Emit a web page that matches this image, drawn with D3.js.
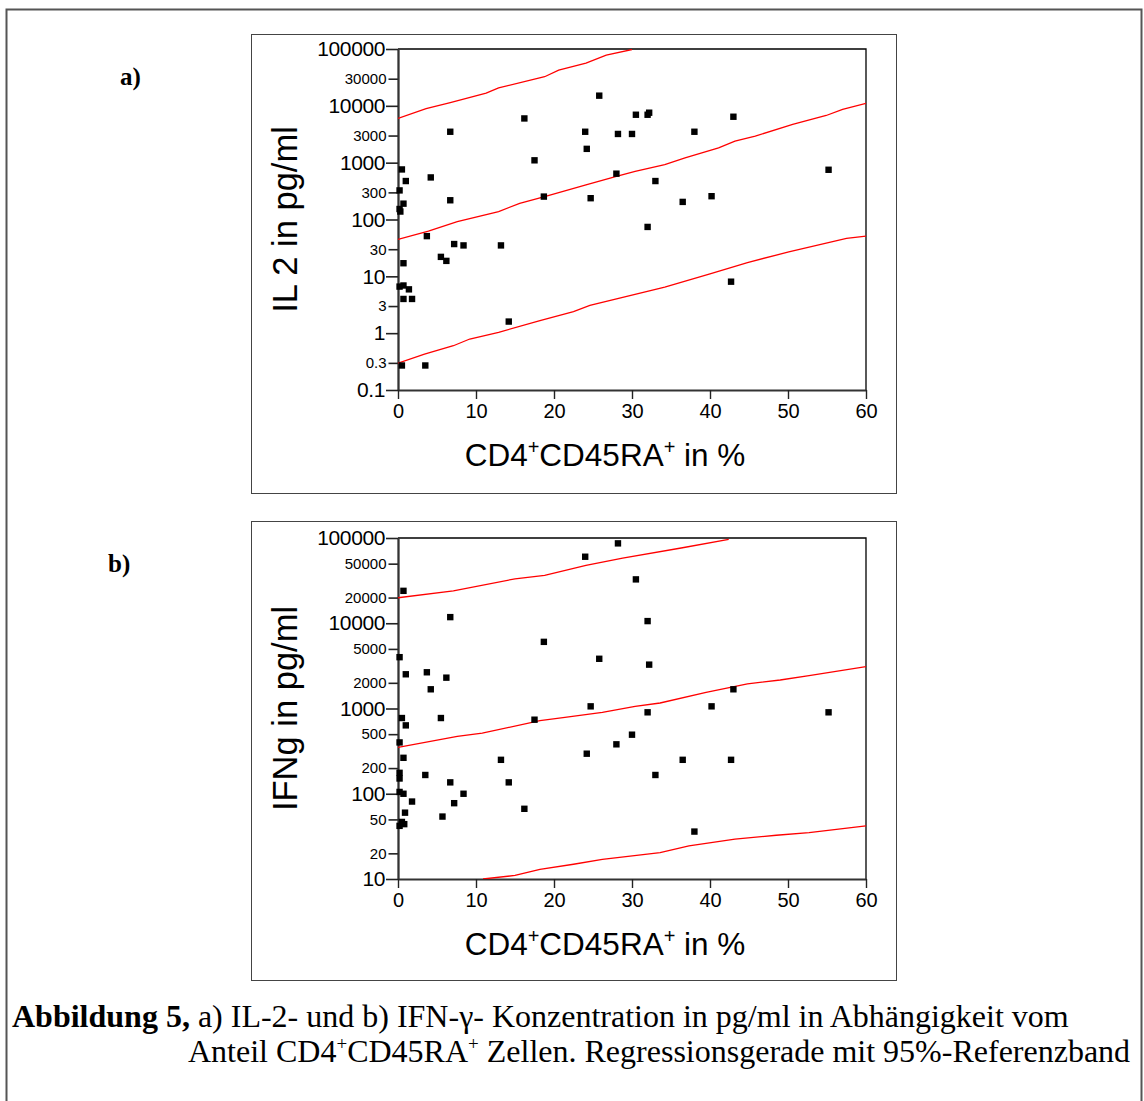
<!DOCTYPE html>
<html>
<head>
<meta charset="utf-8">
<script src="https://cdn.jsdelivr.net/npm/d3@7"></script>
<style>
  body { margin:0; background:#fff; }
  svg { display:block; }
</style>
</head>
<body>
<svg id="fig" width="1144" height="1101"></svg>
<script>
// ---- data ----
var xTicks = [0, 10, 20, 30, 40, 50, 60]
var xMinorTicks = [5, 15, 25, 35, 45, 55]

var il2Major = [0.1, 1, 10, 100, 1000, 10000, 100000]
var il2Mid = [0.3, 3, 30, 300, 3000, 30000]
var ifnMajor = [10, 100, 1000, 10000, 100000]
var ifnMid = [20, 50, 200, 500, 2000, 5000, 20000, 50000]

// IL 2 (pg/ml) vs CD4+CD45RA+ (%)
var il2Points = [
  [0.5, 760], [0.2, 325], [1.0, 475], [0.7, 190], [0.2, 153], [0.3, 138],
  [4.2, 550], [6.7, 3500], [6.7, 218], [3.7, 51], [7.2, 37], [8.4, 35],
  [5.5, 22], [6.2, 18.7], [0.7, 17], [0.2, 6.6], [0.7, 6.9], [1.4, 5.9],
  [0.7, 4.0], [1.8, 4.0], [0.5, 0.27], [3.5, 0.27], [14.2, 1.6], [13.2, 35],
  [16.2, 6000], [17.5, 1100], [18.7, 253], [24.0, 3500], [24.2, 1750], [24.7, 237],
  [25.8, 15100], [28.0, 640], [28.2, 3200], [30.0, 3200], [30.5, 6970], [32.0, 6970],
  [32.2, 7570], [33.0, 475], [32.0, 74], [36.5, 204], [38.0, 3500], [40.2, 257],
  [43.0, 6430], [42.7, 8.05], [55.2, 750]
]
var il2Upper = [
  [0, 6000], [3.6, 8900], [6.7, 11400], [11.3, 16700], [12.9, 20700], [18.8, 32500],
  [20.6, 42500], [24.1, 56500], [26.7, 78000], [30.0, 98000]
]
var il2Fit = [
  [0, 44.6], [3.9, 62.7], [7.6, 91.6], [12.9, 138], [15.6, 193], [18.8, 253],
  [24.1, 408], [28.0, 573], [30.4, 703], [34.2, 923], [36.8, 1210], [41.1, 1820],
  [43.2, 2390], [45.8, 2930], [50.6, 4710], [54.9, 6760], [57.0, 8670], [60, 11070]
]
var il2Lower = [
  [0, 0.296], [3.4, 0.428], [7.1, 0.601], [9.2, 0.789], [12.9, 1.035], [18.2, 1.66],
  [22.5, 2.40], [24.6, 3.07], [34.2, 6.47], [40.0, 11.1], [44.8, 17.5], [50.1, 26.9],
  [57.5, 46.4], [60, 51]
]

// IFNg (pg/ml) vs CD4+CD45RA+ (%)
var ifnPoints = [
  [28.2, 86500], [24.0, 60300], [30.5, 32700], [0.7, 24000], [6.7, 11800], [32.0, 10600],
  [18.7, 6050], [0.2, 4000], [25.8, 3830], [32.2, 3270], [1.0, 2520], [3.7, 2660],
  [6.2, 2300], [4.2, 1680], [43.0, 1680], [24.7, 1060], [40.2, 1060], [32.0, 902],
  [55.2, 902], [0.5, 773], [5.5, 773], [17.5, 739], [1.0, 634], [30.0, 493],
  [0.2, 400], [28.0, 380], [24.2, 295], [0.7, 264], [13.2, 250], [36.5, 250],
  [42.7, 250], [0.2, 176], [0.2, 151], [3.5, 166], [33.0, 166], [6.7, 136],
  [14.2, 136], [0.2, 105], [0.7, 100], [8.4, 100], [1.8, 81], [7.2, 77.5],
  [16.2, 66.6], [0.9, 60], [5.7, 54], [0.5, 46.7], [0.8, 44], [0.2, 42], [38.0, 36]
]
var ifnUpper = [
  [0, 19900], [7.1, 24000], [15.0, 33200], [18.8, 36500], [24.1, 47700], [28.8, 58200],
  [36.3, 76300], [42.4, 96500]
]
var ifnFit = [
  [0, 350], [7.6, 471], [10.8, 515], [18.2, 719], [21.4, 787], [26.2, 902],
  [30.4, 1060], [33.6, 1160], [39.5, 1550], [44.8, 1940], [49.0, 2160], [52.7, 2430],
  [60, 3100]
]
var ifnLower = [
  [10.9, 10], [15.0, 11.0], [18.2, 13], [22.5, 14.9], [26.2, 17], [33.6, 20.4],
  [37.3, 24.4], [43.2, 29.3], [48.5, 32.6], [52.7, 35], [60, 42]
]

var svg = d3.select("#fig")
var SANS = "'Liberation Sans', Arial, sans-serif"
var SERIF = "'Liberation Serif', 'Times New Roman', serif"

// outer frame of the figure
svg.append("path")
  .attr("d", "M6.5,1101 V9.5 H1141.5 V1101")
  .attr("fill", "none").attr("stroke", "#555").attr("stroke-width", 2)

function panel(o) {
  var g = svg.append("g")
  g.append("rect")
    .attr("x", 251.5).attr("y", o.top + 0.5).attr("width", 645).attr("height", 459)
    .attr("fill", "none").attr("stroke", "#444").attr("stroke-width", 1)

  var x = d3.scaleLinear().domain([0, 60]).range([398, 866])
  var y = d3.scaleLog().domain(o.domain).range([o.plotTop + 341, o.plotTop])

  // top and right frame
  g.append("path")
    .attr("d", "M" + x(0) + "," + y.range()[1] + " H" + x(60) + " V" + y.range()[0])
    .attr("fill", "none").attr("stroke", "#000").attr("stroke-width", 1.3)

  // y axis: unlabeled minors, labeled mids, majors
  var minors = []
  o.major.slice(0, -1).forEach(function(m) {
    for (var k = 2; k <= 9; k++) {
      var v = +(m * k).toPrecision(3)
      if (o.mid.indexOf(v) < 0) minors.push(v)
    }
  })
  var ax = g.append("g").attr("transform", "translate(" + x(0) + ",0)")
  ax.call(d3.axisLeft(y).tickValues(minors).tickSize(6.5).tickSizeOuter(0).tickFormat(""))
  ax.call(d3.axisLeft(y).tickValues(o.mid).tickSize(9.5).tickSizeOuter(0).tickFormat(String)
      .tickPadding(2))
  ax.selectAll(".tick text").attr("font-size", 15)
  var ax2 = g.append("g").attr("transform", "translate(" + x(0) + ",0)")
  ax2.call(d3.axisLeft(y).tickValues(o.major).tickSize(12).tickSizeOuter(0).tickFormat(String)
      .tickPadding(1))
  ax2.selectAll(".tick text").attr("font-size", 21).attr("letter-spacing", -0.4)
  g.selectAll(".domain").attr("stroke", "#333").attr("stroke-width", 1.8)
  g.selectAll(".tick line").attr("stroke", "#222").attr("stroke-width", 1.6)
  g.selectAll(".tick text").attr("font-family", SANS).attr("fill", "#000")

  // x axis
  var bx = g.append("g").attr("transform", "translate(0," + y.range()[0] + ")")
  bx.call(d3.axisBottom(x).tickValues(xMinorTicks).tickSize(7).tickSizeOuter(0).tickFormat(""))
  bx.call(d3.axisBottom(x).tickValues(xTicks).tickSize(9).tickSizeOuter(0).tickPadding(5))
  bx.selectAll(".tick text").attr("font-size", 20).attr("font-family", SANS).attr("fill", "#000")
  bx.select(".domain").attr("stroke", "#333").attr("stroke-width", 1.8)
  bx.selectAll(".tick line").attr("stroke", "#222").attr("stroke-width", 1.4)

  // red lines: band and regression
  var clipId = "clip" + o.top
  svg.append("clipPath").attr("id", clipId).append("rect")
    .attr("x", x(0)).attr("y", y.range()[1]).attr("width", x(60) - x(0)).attr("height", 341)
  var line = d3.line().x(function(d) { return x(d[0]) }).y(function(d) { return y(d[1]) })
  g.append("g").attr("clip-path", "url(#" + clipId + ")")
    .selectAll("path").data(o.lines).join("path")
    .attr("d", line).attr("fill", "none").attr("stroke", "#f00").attr("stroke-width", 1.3)

  // data points
  g.append("g").selectAll("rect").data(o.points).join("rect")
    .attr("x", function(d) { return x(d[0]) - 3.2 })
    .attr("y", function(d) { return y(d[1]) - 3.2 })
    .attr("width", 6.4).attr("height", 6.4).attr("fill", "#000")

  // axis titles
  g.append("text")
    .attr("transform", "translate(297," + (o.plotTop + 170.5) + ") rotate(-90)")
    .attr("text-anchor", "middle").attr("font-family", SANS).attr("font-size", 34.5)
    .text(o.ytitle)
  var xt = g.append("text").attr("x", 605).attr("y", o.plotTop + 417)
    .attr("text-anchor", "middle").attr("font-family", SANS).attr("font-size", 31.5)
  xt.append("tspan").text("CD4")
  xt.append("tspan").attr("dy", -12).attr("font-size", 20).text("+")
  xt.append("tspan").attr("dy", 12).text("CD45RA")
  xt.append("tspan").attr("dy", -12).attr("font-size", 20).text("+")
  xt.append("tspan").attr("dy", 12).text(" in %")

  svg.append("text").attr("x", o.labelX).attr("y", o.top + 51)
    .attr("font-family", SERIF).attr("font-weight", "bold").attr("font-size", 25)
    .text(o.label)
}

panel({ top: 34, plotTop: 49, domain: [0.1, 100000], major: il2Major, mid: il2Mid,
  points: il2Points, lines: [il2Upper, il2Fit, il2Lower], ytitle: "IL 2 in pg/ml",
  label: "a)", labelX: 120 })
panel({ top: 521, plotTop: 538, domain: [10, 100000], major: ifnMajor, mid: ifnMid,
  points: ifnPoints, lines: [ifnUpper, ifnFit, ifnLower], ytitle: "IFNg in pg/ml",
  label: "b)", labelX: 108 })

// caption
var c1 = svg.append("text").attr("x", 12).attr("y", 1027)
  .attr("font-family", SERIF).attr("font-size", 32)
c1.append("tspan").attr("font-weight", "bold").text("Abbildung 5,")
c1.append("tspan").text(" a) IL-2- und b) IFN-γ- Konzentration in pg/ml in Abhängigkeit vom")
var c2 = svg.append("text").attr("x", 188).attr("y", 1062)
  .attr("font-family", SERIF).attr("font-size", 32)
c2.append("tspan").text("Anteil CD4")
c2.append("tspan").attr("dy", -12).attr("font-size", 19).text("+")
c2.append("tspan").attr("dy", 12).text("CD45RA")
c2.append("tspan").attr("dy", -12).attr("font-size", 19).text("+")
c2.append("tspan").attr("dy", 12).text(" Zellen. Regressionsgerade mit 95%-Referenzband")
</script>
</body>
</html>
